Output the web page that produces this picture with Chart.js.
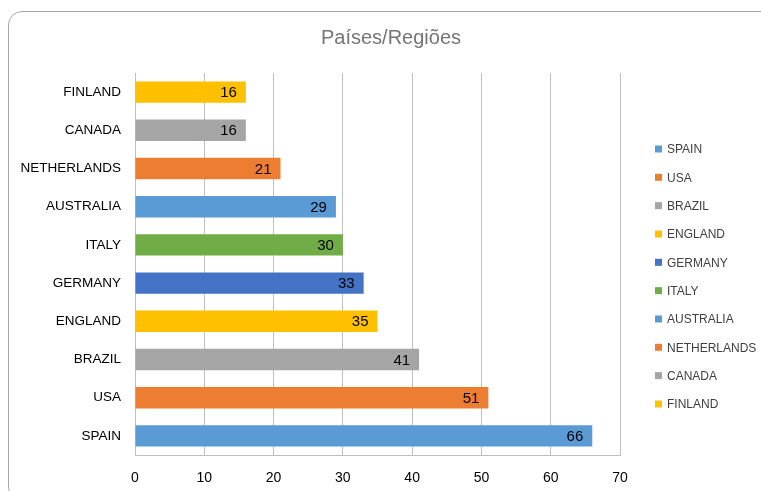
<!DOCTYPE html>
<html>
<head>
<meta charset="utf-8">
<script src="https://cdn.jsdelivr.net/npm/chart.js@4/dist/chart.umd.min.js"></script>
<style>
  html, body { margin: 0; padding: 0; background: #fff; overflow: hidden; }
  #wrap { position: relative; width: 761px; height: 491px; }
  #frame { position: absolute; left: 8px; top: 11px; width: 770px; height: 490px;
           border: 1px solid #A6A6A6; border-radius: 14px; box-sizing: border-box; }
  canvas { position: absolute; left: 0; top: 0; }
</style>
</head>
<body>
<div id="wrap">
  <div id="frame"></div>
  <canvas id="c" width="761" height="491"></canvas>
</div>
<script>
const categories = ['SPAIN', 'USA', 'BRAZIL', 'ENGLAND', 'GERMANY', 'ITALY', 'AUSTRALIA', 'NETHERLANDS', 'CANADA', 'FINLAND'];
const values = [66, 51, 41, 35, 33, 30, 29, 21, 16, 16];
const barColors = ['#5B9BD5', '#ED7D31', '#A5A5A5', '#FFC000', '#4472C4', '#70AD47', '#5B9BD5', '#ED7D31', '#A5A5A5', '#FFC000'];
const xTicks = [0, 10, 20, 30, 40, 50, 60, 70];
const titleText = 'Países/Regiões';

const FONT = "'Liberation Sans', Arial, sans-serif";

const valueLabels = {
  id: 'valueLabels',
  afterDatasetsDraw(chart) {
    const ctx = chart.ctx;
    const meta = chart.getDatasetMeta(0);
    ctx.save();
    ctx.font = '15px ' + FONT;
    ctx.fillStyle = '#000000';
    ctx.textAlign = 'right';
    ctx.textBaseline = 'middle';
    meta.data.forEach((bar, i) => {
      ctx.fillText(String(values[i]), bar.x - 9, bar.y + 1);
    });
    ctx.restore();
  }
};

const sideLegendAndTitle = {
  id: 'sideLegendAndTitle',
  afterDraw(chart) {
    const ctx = chart.ctx;
    ctx.save();
    ctx.font = '20px ' + FONT;
    ctx.fillStyle = '#757575';
    ctx.textAlign = 'center';
    ctx.textBaseline = 'middle';
    ctx.fillText(titleText, 391, 38);

    ctx.font = '12px ' + FONT;
    ctx.textAlign = 'left';
    categories.forEach((name, i) => {
      const y = 149 + i * 28.33;
      ctx.fillStyle = barColors[i];
      ctx.fillRect(655, y - 3.5, 7, 7);
      ctx.fillStyle = '#404040';
      ctx.fillText(name, 667, y + 1);
    });
    ctx.restore();
  }
};

new Chart(document.getElementById('c'), {
  type: 'bar',
  data: {
    labels: categories,
    datasets: [{
      data: values,
      backgroundColor: barColors,
      barPercentage: 0.56,
      categoryPercentage: 1.0
    }]
  },
  options: {
    indexAxis: 'y',
    responsive: false,
    animation: false,
    layout: { padding: { left: 0, right: 141, top: 73, bottom: 0 } },
    plugins: {
      legend: { display: false },
      tooltip: { enabled: false },
      title: { display: false }
    },
    scales: {
      x: {
        min: 0, max: 70,
        afterBuildTicks(scale) { scale.ticks = xTicks.map(v => ({ value: v })); },
        afterFit(scale) { scale.height = 36; },
        grid: { color: '#BFBFBF', lineWidth: 1, drawTicks: false },
        border: { display: true, color: '#BFBFBF' },
        ticks: { color: '#000000', font: { family: FONT, size: 14 }, padding: 15, maxRotation: 0 }
      },
      y: {
        reverse: true,
        afterFit(scale) { scale.width = 135; },
        grid: { display: false, drawTicks: false },
        border: { display: true, color: '#BFBFBF' },
        ticks: { color: '#000000', font: { family: FONT, size: 13.5 }, padding: 14 }
      }
    }
  },
  plugins: [valueLabels, sideLegendAndTitle]
});
</script>
</body>
</html>
